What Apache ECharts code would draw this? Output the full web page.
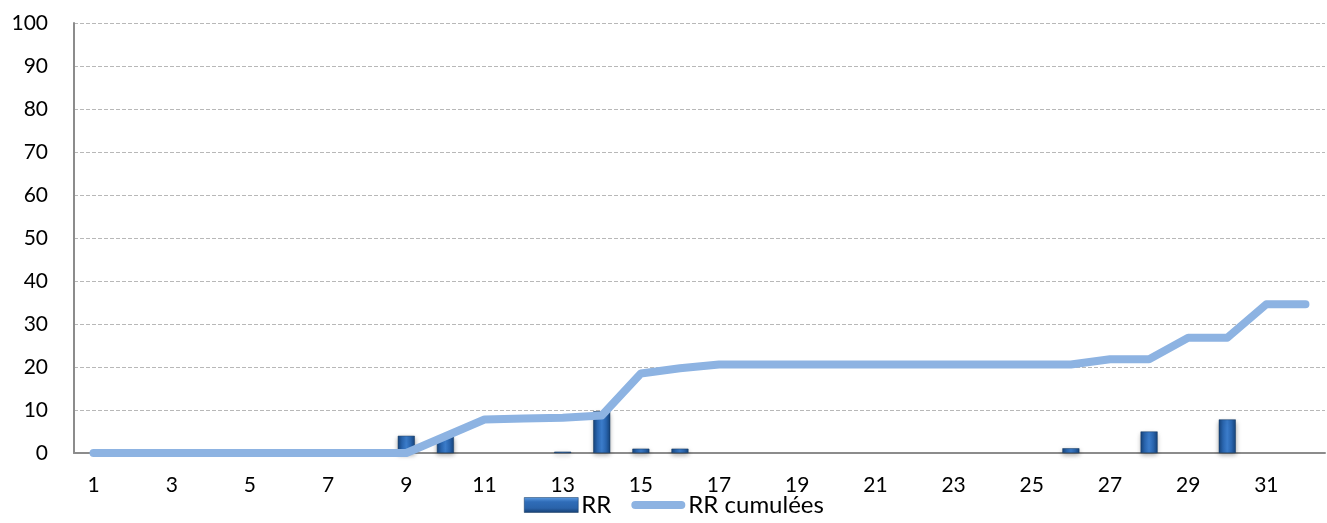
<!DOCTYPE html>
<html>
<head>
<meta charset="utf-8">
<script src="https://cdn.jsdelivr.net/npm/echarts@6/dist/echarts.min.js"></script>
<style>
html,body{margin:0;padding:0;background:#fff;}
#chart{width:1327px;height:523px;}
</style>
</head>
<body>
<div id="chart"></div>
<script>
const categories = ['1','2','3','4','5','6','7','8','9','10','11','12','13','14','15','16','17','18','19','20','21','22','23','24','25','26','27','28','29','30','31','32'];
const rrValues = [0,0,0,0,0,0,0,0,4,3.8,0,0,0.3,9.7,1,1,0,0,0,0,0,0,0,0,0,1.1,0,5,0,7.8,0,0];
const rrCumul = [0,0,0,0,0,0,0,0,0,3.9,7.8,8.0,8.2,8.7,18.5,19.7,20.6,20.6,20.6,20.6,20.6,20.6,20.6,20.6,20.6,20.6,21.8,21.8,26.8,26.8,34.6,34.6];
const yTicks = [0,10,20,30,40,50,60,70,80,90,100];

const FONT = 'Lato';
const chart = echarts.init(document.getElementById('chart'));
const barGrad = new echarts.graphic.LinearGradient(0,0,1,0,[
  {offset:0,color:'#16447c'},
  {offset:0.25,color:'#2a66b0'},
  {offset:0.5,color:'#3b7cca'},
  {offset:0.75,color:'#2a66b0'},
  {offset:1,color:'#16447c'}
]);
const legendBarGrad = new echarts.graphic.LinearGradient(0,0,0,1,[
  {offset:0,color:'#5d9be0'},
  {offset:0.3,color:'#2f6cb8'},
  {offset:0.7,color:'#2a63aa'},
  {offset:1,color:'#163f73'}
]);
chart.setOption({
  animation:false,
  grid:{left:74,right:2,top:23,bottom:70,containLabel:false},
  legend:{
    bottom:1,left:519,
    itemWidth:54,itemHeight:15,itemGap:20,
    textStyle:{fontFamily:FONT,fontSize:24,color:'#000',padding:[0,0,0,-2]},
    data:[
      {name:'RR',icon:'rect',itemStyle:{color:legendBarGrad,borderColor:'#12365f',borderWidth:0.5}},
      {name:'RR cumulées',icon:'path://M10,3 L90,3 A7,7 0 0 1 90,17 L10,17 A7,7 0 0 1 10,3 Z',itemStyle:{color:'#8db3e2'}}
    ]
  },
  xAxis:{
    type:'category',data:categories,boundaryGap:true,
    axisLine:{lineStyle:{color:'#8c8c8c',width:2}},
    axisTick:{show:false},
    axisLabel:{interval:1,fontFamily:FONT,fontSize:21,color:'#000',margin:22}
  },
  yAxis:{
    type:'value',min:yTicks[0],max:yTicks[yTicks.length-1],interval:10,
    axisLine:{show:true,lineStyle:{color:'#8c8c8c',width:2}},
    axisTick:{show:false},
    axisLabel:{fontFamily:FONT,fontSize:21,color:'#000',margin:26},
    splitLine:{lineStyle:{color:'#b8b8b8',type:'dashed',width:1}}
  },
  series:[
    {
      name:'RR',type:'bar',data:rrValues.map(v=>v===0?null:v),barWidth:17,
      itemStyle:{color:barGrad,borderColor:'#12365f',borderWidth:0.5,shadowColor:'rgba(0,0,0,0.35)',shadowBlur:5,shadowOffsetY:2}
    },
    {
      name:'RR cumulées',type:'line',data:rrCumul,showSymbol:false,symbol:'none',
      lineStyle:{color:'#8db3e2',width:8,cap:'round',join:'round'},
      itemStyle:{color:'#8db3e2'},z:3
    }
  ]
});
</script>
</body>
</html>
